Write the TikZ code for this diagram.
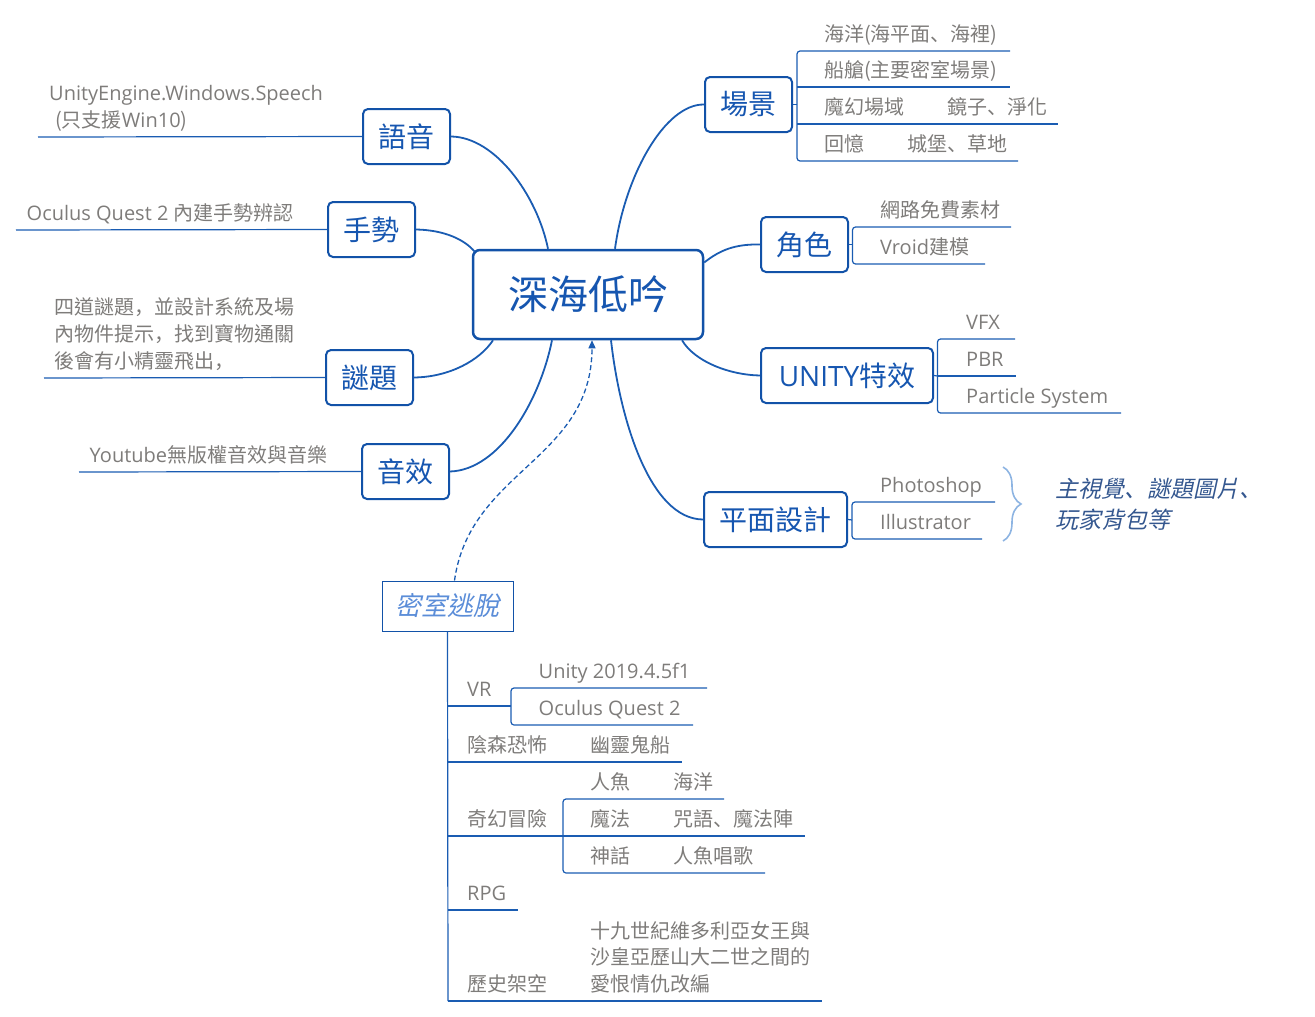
\documentclass[tikz,border=0pt]{standalone}
\usepackage{fontspec}
\setmainfont{Noto Sans CJK TC}
\newfontfamily\lat{Open Sans}
\newfontfamily\scp{Noto Sans CJK SC}
\newfontfamily\cjkit[FakeSlant=0.22]{Noto Sans CJK TC}
\newfontfamily\scpit[FakeSlant=0.22]{Noto Sans CJK SC}
\newcommand{\dun}{{\scp 、}}
\newcommand{\dou}{{\scp ，}}
\newcommand{\dunit}{{\scpit 、}}
\usetikzlibrary{calc,arrows.meta,decorations.pathreplacing}
\definecolor{bd}{HTML}{1252A8}
\definecolor{bt}{HTML}{1656B0}
\definecolor{ln}{HTML}{1A5CB2}
\definecolor{gt}{HTML}{7E7C7A}
\definecolor{lb}{HTML}{5B8DD8}
\definecolor{brc}{HTML}{8DB4E2}
\definecolor{itc}{HTML}{34578F}
\tikzset{
  box/.style={draw=bd, line width=2pt, rounded corners=5pt, text=bt,
    font=\fontsize{28}{32}\selectfont, inner sep=0pt, minimum width=87pt, minimum height=55pt},
  sub/.style={anchor=base west, inner sep=0pt, text=gt, font=\fontsize{20}{27}\selectfont},
  conn/.style={draw=ln, line width=1.8pt},
  uline/.style={draw=ln, line width=1.2pt},
  brk/.style={uline, rounded corners=3pt},
  notetext/.style={anchor=base west, inner sep=0pt, text=itc, font=\fontsize{23}{30}\selectfont\cjkit}
}
\begin{document}
\begin{tikzpicture}[x=1pt,y=-1pt]
\useasboundingbox (0,0) rectangle (1315,1017);

% central node
\node[box, line width=2.5pt, rounded corners=7pt, minimum width=230pt, minimum height=89pt,
      font=\fontsize{40}{44}\selectfont] (main) at (588,294.5) {深海低吟};

% level-1 boxes
\node[box] (yuyin) at (406.5,136.5) {語音};
\node[box] (shoushi) at (371.5,229.5) {手勢};
\node[box] (mi) at (369.5,377.5) {謎題};
\node[box] (yinxiao) at (405.5,471.5) {音效};
\node[box] (changjing) at (748.5,104.5) {場景};
\node[box] (juese) at (804.5,244.5) {角色};
\node[box, minimum width=172pt] (unity) at (847,375.5) {{\lat UNITY}特效};
\node[box, minimum width=143pt] (pingmian) at (775.5,519.5) {平面設計};
\node[draw=bd, line width=1pt, inner sep=0pt, minimum width=131pt, minimum height=50pt,
      text=lb, font=\fontsize{26}{30}\selectfont\cjkit] (mishi) at (447.5,606) {密室逃脫};

% connectors from the centre
\draw[conn] (yuyin.east) .. controls (495,137) and (537,195) .. ($(main.north)+(-40,0)$);
\draw[conn] (shoushi.east) .. controls (445,230) and (465,240) .. ($(main.north west)+(3,3)$);
\draw[conn] (mi.east) .. controls (450,377) and (480,360) .. ($(main.south)+(-95,0)$);
\draw[conn] (yinxiao.east) .. controls (500,470) and (540,400) .. ($(main.south)+(-36,0)$);
\draw[conn] (changjing.west) .. controls (665,104) and (625,175) .. ($(main.north)+(27,0)$);
\draw[conn] (juese.west) .. controls (735,244) and (720,250) .. ($(main.east)+(0,-32)$);
\draw[conn] (unity.west) .. controls (730,375) and (695,362) .. ($(main.south)+(94,0)$);
\draw[conn] (pingmian.west) .. controls (650,519) and (620,420) .. ($(main.south)+(23,0)$);
\draw[draw=ln, line width=1.3pt, dash pattern=on 5pt off 3pt, -{Triangle[length=8pt,width=7pt]}]
  ($(mishi.north)+(7,0)$) .. controls (470,470) and (592,460) .. ($(main.south)+(4,0)$);

% 場景 children
\draw[uline] (changjing.east) -- (797,104.5);
\draw[brk] (1010,51) -- (797,51) -- (797,161) -- (1018,161);
\draw[uline] (797,87) -- (1010,87);
\draw[uline] (797,124) -- (1058,124);
\node[sub] (cj1) at (824,41) {海洋(海平面\dun 海裡)};
\node[sub] (cj2) at (824,77.5) {船艙(主要密室場景)};
\node[sub] (cj3) at (824,114.5) {魔幻場域};
\node[sub] (cj3b) at (947,114.5) {鏡子\dun 淨化};
\node[sub] (cj4) at (824,151.5) {回憶};
\node[sub] (cj4b) at (907,151.5) {城堡\dun 草地};

% 角色 children
\draw[uline] (juese.east) -- (852.5,244.5);
\draw[brk] (1011,227) -- (852.5,227) -- (852.5,264) -- (985,264);
\node[sub] (js1) at (880,217.5) {網路免費素材};
\node[sub] (js2) at (880,254.5) {{\lat Vroid}建模};

% UNITY children
\draw[uline] (unity.east) -- (937.5,376);
\draw[brk] (1015,339) -- (937.5,339) -- (937.5,413) -- (1121,413);
\draw[uline] (937.5,376) -- (1016,376);
\node[sub] (u1) at (966,329) {\lat VFX};
\node[sub] (u2) at (966,366) {\lat PBR};
\node[sub] (u3) at (966,403) {\lat Particle System};

% 平面設計 children
\draw[uline] (pingmian.east) -- (852,520);
\draw[brk] (995,502) -- (852,502) -- (852,539) -- (982,539);
\node[sub] (p1) at (880,492) {\lat Photoshop};
\node[sub] (p2) at (880,529) {\lat Illustrator};
\draw[brc, line width=1.6pt, decorate, decoration={brace, amplitude=18pt}] (1003,467) -- (1003,541);
\node[notetext] (note1) at (1055,497) {主視覺\dunit 謎題圖片\dunit};
\node[notetext] (note2) at (1055,528.5) {玩家背包等};

% left side
\draw[uline] (yuyin.west) -- (38,137);
\node[sub] (y1) at (49,100) {\lat UnityEngine.Windows.Speech};
\node[sub] (y2) at (55,127.5) {(只支援{\lat Win10})};
\draw[uline] (shoushi.west) -- (16,230);
\node[sub] (s1) at (26.5,220.5) {{\lat Oculus Quest 2 }內建手勢辨認};
\draw[uline] (mi.west) -- (44,378);
\node[sub] (m1) at (54,314) {四道謎題\dou 並設計系統及場};
\node[sub] (m2) at (54,341) {內物件提示\dou 找到寶物通關};
\node[sub] (m3) at (54,368) {後會有小精靈飛出\dou};
\draw[uline] (yinxiao.west) -- (79,472);
\node[sub] (x1) at (89.5,462) {{\lat Youtube}無版權音效與音樂};

% bottom tree
\draw[uline] (mishi.south) -- (448,1001);
\draw[uline] (448,706) -- (511,706);
\draw[brk] (707,688) -- (511,688) -- (511,725) -- (693,725);
\node[sub] (vr) at (467,696) {\lat VR};
\node[sub] (vr1) at (538.5,678) {\lat Unity 2019.4.5f1};
\node[sub] (vr2) at (538.5,715) {\lat Oculus Quest 2};
\draw[uline] (448,762) -- (682,762);
\node[sub] (ys) at (467,752.5) {陰森恐怖};
\node[sub] (ys1) at (590.5,752.5) {幽靈鬼船};
\draw[uline] (448,836) -- (805,836);
\draw[brk] (724,799) -- (563,799) -- (563,873) -- (765,873);
\node[sub] (qh) at (467,826.5) {奇幻冒險};
\node[sub] (qh1) at (590.5,789.5) {人魚};
\node[sub] (qh1b) at (673,789.5) {海洋};
\node[sub] (qh2) at (590.5,826.5) {魔法};
\node[sub] (qh2b) at (673,826.5) {咒語\dun 魔法陣};
\node[sub] (qh3) at (590.5,863.5) {神話};
\node[sub] (qh3b) at (673,863.5) {人魚唱歌};
\draw[uline] (448,910) -- (518,910);
\node[sub] (rpg) at (467,900) {\lat RPG};
\draw[uline] (448,1001) -- (822,1001);
\node[sub] (ls) at (467,991.5) {歷史架空};
\node[sub] (ls1) at (590.5,938) {十九世紀維多利亞女王與};
\node[sub] (ls2) at (590.5,964.5) {沙皇亞歷山大二世之間的};
\node[sub] (ls3) at (590.5,991.5) {愛恨情仇改編};
\end{tikzpicture}
\end{document}
